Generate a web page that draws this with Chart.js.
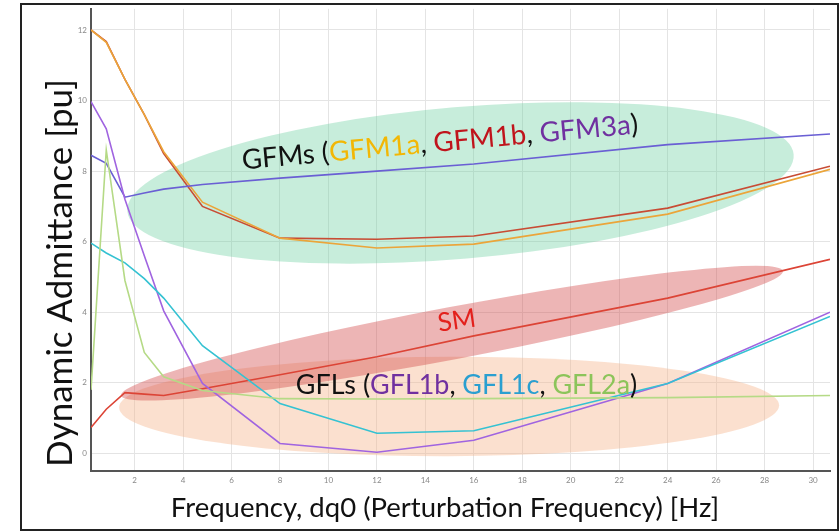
<!DOCTYPE html>
<html>
<head>
<meta charset="utf-8">
<script src="https://cdn.jsdelivr.net/npm/chart.js@4.4.1/dist/chart.umd.min.js"></script>
<style>
    html, body { margin: 0; padding: 0; background: #fff; }
    #wrap { width: 840px; height: 532px; position: relative; }
</style>
</head>
<body>
<div id="wrap"><canvas id="admittanceChart"></canvas></div>
<script>
// --- data ---
const freq   = [0.2, 0.83, 1.6, 2.4, 3.2, 4.8, 8, 12, 16, 24, 30.7];
const gfm1a  = [12.0, 11.65, 10.6, 9.6, 8.55, 7.12, 6.1, 5.82, 5.93, 6.78, 8.05];
const gfm1b  = [12.0, 11.67, 10.6, 9.6, 8.5, 7.0, 6.1, 6.07, 6.16, 6.95, 8.14];
const gfm3a  = [8.45, 8.22, 7.26, 7.38, 7.49, 7.62, 7.8, 8.0, 8.2, 8.75, 9.05];
const sm     = [0.73, 1.25, 1.72, 1.68, 1.64, 1.83, 2.23, 2.74, 3.33, 4.4, 5.5];
const gfl1b  = [9.97, 9.2, 7.2, 5.6, 4.04, 1.98, 0.28, 0.03, 0.37, 1.98, 4.0];
const gfl1c  = [5.96, 5.68, 5.4, 4.95, 4.4, 3.05, 1.41, 0.57, 0.64, 1.98, 3.88];
const gfl2a  = [1.8, 8.6, 4.9, 2.86, 2.17, 1.78, 1.55, 1.54, 1.55, 1.58, 1.64];
const xTicks = [2, 4, 6, 8, 10, 12, 14, 16, 18, 20, 22, 24, 26, 28, 30];
const yTicks = [0, 2, 4, 6, 8, 10, 12];

const FONT = 'Lato, "Open Sans", sans-serif';

// shaded groups (ends in data units, half-thickness in pu)
const bands = [
    { from: [1.7, 6.86], to: [29.2, 8.47], half: 2.15, fill: 'rgba(100, 205, 155, 0.36)' },
    { from: [1.36, 1.30], to: [28.6, 1.36], half: 1.41, fill: 'rgba(245, 180, 140, 0.42)' },
    { from: [1.44, 1.64], to: [28.76, 5.17], half: 0.74, fill: 'rgba(210, 70, 70, 0.40)' }
];

// group labels: pieces of coloured text
const labels = [
    { at: [14.6, 8.81], angle: -5.2, size: 27.7, parts: [
        ['GFMs (', '#111'], ['GFM1a', '#f2b705'], [', ', '#111'], ['GFM1b', '#c0141c'],
        [', ', '#111'], ['GFM3a', '#7030a0'], [')', '#111']] },
    { at: [15.3, 3.76], angle: -8, size: 26, parts: [['SM', '#e3201c']] },
    { at: [15.7, 1.92], angle: 0, size: 26.9, parts: [
        ['GFLs (', '#111'], ['GFL1b', '#7030a0'], [', ', '#111'], ['GFL1c', '#2a9fd0'],
        [', ', '#111'], ['GFL2a', '#8cc45a'], [')', '#111']] }
];

function series(ys) {
    return freq.map((f, i) => ({ x: f, y: ys[i] }));
}

const decorPlugin = {
    id: 'decor',
    beforeDraw(chart) {
        const ctx = chart.ctx;
        ctx.save();
        ctx.fillStyle = '#fff';
        ctx.fillRect(0, 0, chart.width, chart.height);
        ctx.restore();
    },
    beforeDatasetsDraw(chart) {
        const ctx = chart.ctx;
        const xs = chart.scales.x, ys = chart.scales.y;
        const unitY = ys.getPixelForValue(0) - ys.getPixelForValue(1);
        ctx.save();
        bands.forEach(b => {
            const x1 = xs.getPixelForValue(b.from[0]), y1 = ys.getPixelForValue(b.from[1]);
            const x2 = xs.getPixelForValue(b.to[0]), y2 = ys.getPixelForValue(b.to[1]);
            ctx.beginPath();
            ctx.ellipse((x1 + x2) / 2, (y1 + y2) / 2, Math.hypot(x2 - x1, y2 - y1) / 2,
                b.half * unitY, Math.atan2(y2 - y1, x2 - x1), 0, Math.PI * 2);
            ctx.fillStyle = b.fill;
            ctx.fill();
        });
        ctx.restore();
    },
    afterDraw(chart) {
        const ctx = chart.ctx;
        const xs = chart.scales.x, ys = chart.scales.y;
        ctx.save();

        // group labels
        labels.forEach(l => {
            ctx.save();
            ctx.font = l.size + 'px ' + FONT;
            ctx.textBaseline = 'middle';
            const total = l.parts.reduce((s, p) => s + ctx.measureText(p[0]).width, 0);
            ctx.translate(xs.getPixelForValue(l.at[0]), ys.getPixelForValue(l.at[1]));
            ctx.rotate(l.angle * Math.PI / 180);
            let x = -total / 2;
            l.parts.forEach(p => {
                ctx.fillStyle = p[1];
                ctx.fillText(p[0], x, 0);
                x += ctx.measureText(p[0]).width;
            });
            ctx.restore();
        });

        // axis titles
        ctx.fillStyle = '#111';
        ctx.textAlign = 'center';
        ctx.textBaseline = 'middle';
        ctx.font = '27.5px ' + FONT;
        ctx.fillText('Frequency, dq0 (Perturbation Frequency) [Hz]', 445, 508);
        ctx.save();
        ctx.translate(61, 273);
        ctx.rotate(-Math.PI / 2);
        ctx.font = '35px ' + FONT;
        ctx.fillText('Dynamic Admittance [pu]', 0, 0);
        ctx.restore();

        // outer frame
        ctx.strokeStyle = '#222';
        ctx.lineWidth = 2;
        ctx.strokeRect(21, 4, 817, 526);
        ctx.restore();
    }
};

const ctx = document.getElementById('admittanceChart');

new Chart(ctx, {
    type: 'line',
    data: {
        datasets: [
            { label: 'GFL2a', data: series(gfl2a), borderColor: '#b5da86' },
            { label: 'GFL1c', data: series(gfl1c), borderColor: '#35c2d2' },
            { label: 'GFL1b', data: series(gfl1b), borderColor: '#a064e0' },
            { label: 'SM', data: series(sm), borderColor: '#dc4436' },
            { label: 'GFM3a', data: series(gfm3a), borderColor: '#6a5fd4' },
            { label: 'GFM1a', data: series(gfm1a), borderColor: '#eba53a' },
            { label: 'GFM1b', data: series(gfm1b), borderColor: '#c84c34' }
        ].map(d => Object.assign(d, { borderWidth: 1.6, pointRadius: 0, tension: 0, fill: false }))
    },
    options: {
        responsive: true,
        maintainAspectRatio: false,
        animation: false,
        layout: { padding: { left: 0, top: 7, right: 10, bottom: 0 } },
        plugins: {
            legend: { display: false },
            tooltip: { enabled: false }
        },
        scales: {
            x: {
                type: 'linear',
                min: 0.2,
                max: 30.7,
                afterBuildTicks: s => { s.ticks = xTicks.map(v => ({ value: v })); },
                afterFit: s => { s.height = 61; },
                grid: { color: '#e4e4e4', drawTicks: false },
                border: { color: '#555', width: 2 },
                ticks: { color: '#888', font: { size: 8, family: FONT }, padding: 5, maxRotation: 0 }
            },
            y: {
                type: 'linear',
                min: -0.5,
                max: 12.6,
                afterBuildTicks: s => { s.ticks = yTicks.map(v => ({ value: v })); },
                afterFit: s => { s.width = 91; },
                grid: { color: '#e4e4e4', drawTicks: false },
                border: { color: '#555', width: 2 },
                ticks: { color: '#888', font: { size: 8, family: FONT }, padding: 4 }
            }
        }
    },
    plugins: [decorPlugin]
});
</script>
</body>
</html>
